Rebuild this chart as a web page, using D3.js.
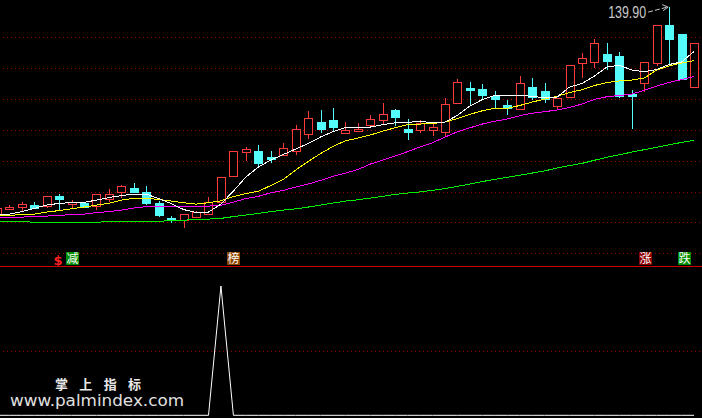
<!DOCTYPE html>
<html><head><meta charset="utf-8">
<script src="https://cdn.jsdelivr.net/npm/d3@7"></script>
<style>html,body{margin:0;padding:0;background:#000;overflow:hidden}svg{display:block}</style>
</head><body>
<svg id="c" width="702" height="418"></svg>
<script>
// ---- data (candle index -1 is the partially visible bar at the left edge) ----
const bars = d3.range(-1, 56);
const open  = [72.38,74.49,74.97,75.72,75.30,78.54,76.11,76.43,75.30,77.56,79.93,81.23,79.83,76.27,71.41,70.76,71.83,72.80,76.59,85.18,92.89,93.12,91.18,91.82,93.28,98.79,102.52,103.17,98.86,99.70,101.71,103.27,106.41,100.15,99.93,100.09,99.28,108.58,113.54,113.22,110.95,108.03,106.83,113.77,112.47,107.87,110.72,121.54,121.87,124.56,123.91,111.59,115.06,121.74,133.96,131.04,114.03];
const high  = [74.74,75.72,76.59,76.49,78.54,79.18,77.24,76.59,79.18,80.81,82.26,82.75,81.78,76.92,72.05,72.70,73.77,78.21,84.60,93.12,94.42,95.07,93.12,95.71,101.55,106.08,106.41,107.06,102.52,102.20,104.79,108.68,106.83,103.49,103.27,101.87,110.20,116.46,115.48,115.00,112.47,109.81,117.43,116.78,115.16,110.20,120.90,124.98,129.42,128.22,125.30,112.89,121.87,133.86,139.90,131.04,128.03];
const low   = [72.38,74.49,73.84,74.65,74.97,74.00,74.97,74.97,74.32,76.92,78.21,79.83,75.94,72.05,70.11,68.49,71.83,72.70,76.59,85.18,90.20,88.68,89.72,91.82,92.15,97.43,99.28,99.93,98.86,99.70,101.06,101.87,101.55,97.17,99.44,98.31,98.47,108.58,108.03,110.14,106.96,105.21,106.83,109.97,109.16,107.06,110.72,117.20,120.44,119.70,110.72,100.67,112.66,120.99,121.54,116.46,114.03];
const close = [74.65,75.13,75.94,74.74,78.54,77.56,76.75,75.07,79.18,79.18,81.78,79.90,76.27,72.38,70.66,72.70,73.35,76.69,84.60,93.06,93.77,89.23,90.53,94.09,100.25,103.72,100.25,100.90,99.93,100.25,103.39,105.05,104.24,99.44,102.10,100.80,108.26,115.39,112.89,111.27,109.97,107.06,115.06,110.52,109.97,110.20,120.90,123.16,128.03,122.29,111.11,110.95,121.87,133.86,129.42,116.46,128.03];
const ma5   = [72.38,72.70,73.51,74.55,75.62,76.17,76.43,76.49,77.24,78.05,78.70,79.18,79.18,77.73,76.11,74.16,73.25,73.35,75.94,80.16,84.69,87.94,90.20,91.99,93.77,95.55,97.66,99.44,100.74,100.80,100.90,101.65,102.29,102.42,102.75,102.29,102.52,104.69,107.71,109.81,111.11,111.27,111.27,110.78,110.46,110.62,113.86,115.00,117.43,120.35,120.90,119.37,118.82,119.54,121.16,121.97,125.37];
const ma10  = [72.28,72.28,72.54,72.70,73.35,73.84,74.42,74.97,75.62,76.17,77.24,77.79,77.79,77.47,76.92,76.36,75.94,76.36,77.01,78.37,79.35,80.09,81.94,83.88,86.96,89.72,92.31,94.64,96.43,97.33,98.31,99.60,100.67,101.68,101.87,102.03,102.52,103.65,105.02,106.18,106.96,106.96,107.87,109.00,109.97,110.85,112.08,112.99,114.35,115.32,115.81,116.13,116.78,119.37,120.67,121.64,122.45];
const ma20  = [71.41,71.50,71.73,71.89,72.05,72.28,72.54,72.70,73.19,73.51,74.00,74.65,75.13,75.20,75.20,75.20,75.20,75.30,75.52,76.59,77.73,78.44,79.61,80.38,81.45,82.43,83.63,84.92,85.99,87.13,88.91,90.20,91.50,92.96,94.48,95.81,97.66,99.38,100.67,101.87,102.78,103.49,104.56,105.37,105.89,106.41,107.22,108.35,109.88,110.72,111.11,111.59,112.79,114.19,115.32,116.29,117.27];
const ma60  = [70.43,70.43,70.43,70.01,70.01,70.01,70.01,70.01,70.01,70.34,70.34,70.34,70.34,70.34,70.60,70.76,70.85,71.08,71.31,71.89,72.38,72.93,73.51,74.00,74.39,74.97,75.62,76.27,76.92,77.34,77.89,78.44,79.09,79.51,79.90,80.38,80.97,81.68,82.43,83.24,83.95,84.60,85.28,85.99,86.70,87.61,88.42,89.13,90.14,91.11,91.95,92.77,93.57,94.35,95.16,95.91,96.62];
const signal = bars.map(i => i === 17 ? 1 : 0);
const gridPrices = [130, 120, 110, 100, 90, 80, 70, 60];
const signalGrid = [0.5];
const labelBars = [5, 18, 51, 54];
const labelTexts = ['减', '榜', '涨', '跌'];
const symbolBar = 4, symbolText = '$';
const watermark1 = '掌 上 指 标', watermark2 = 'www.palmindex.com';

// ---- drawing ----
const svg = d3.select('#c');
svg.append('rect').attr('width', 702).attr('height', 418).attr('fill', '#000');
const x = d3.scaleLinear().domain([-1, 55]).range([-3.15, 694.05]);
const y = d3.scaleLinear().domain([60, 130]).range([253.3, 37.2]);
const ys = d3.scaleLinear().domain([0, 1]).range([415.3, 286]);
const cx = i => Math.round(x(i));
const py = v => Math.round(y(v));

const RED = '#ff3c3c', CYAN = '#54fcfc', GRID = '#a00000';

// grid
svg.append('g').selectAll('line').data(gridPrices).join('line')
  .attr('x1', 3).attr('x2', 702)
  .attr('y1', d => py(d) + 0.5).attr('y2', d => py(d) + 0.5)
  .attr('stroke', GRID).attr('stroke-width', 1).attr('stroke-dasharray', '1,3')
  .attr('shape-rendering', 'crispEdges');
svg.append('g').selectAll('line').data(signalGrid).join('line')
  .attr('x1', 3).attr('x2', 702)
  .attr('y1', d => Math.round(ys(d)) + 0.5).attr('y2', d => Math.round(ys(d)) + 0.5)
  .attr('stroke', GRID).attr('stroke-width', 1).attr('stroke-dasharray', '1,3')
  .attr('shape-rendering', 'crispEdges');
// separator
svg.append('line').attr('x1', 0).attr('x2', 702).attr('y1', 266.5).attr('y2', 266.5)
  .attr('stroke', '#d00000').attr('stroke-width', 1).attr('shape-rendering', 'crispEdges');

// candles
const gC = svg.append('g').attr('shape-rendering', 'crispEdges');
bars.forEach((b, k) => {
  const o = open[k], h = high[k], l = low[k], c = close[k];
  const X = cx(b);
  const up = c >= o;
  const top = py(Math.max(o, c)), bot = py(Math.min(o, c));
  const col = up ? RED : CYAN;
  if (up) {
    gC.append('line').attr('x1', X + 0.5).attr('x2', X + 0.5).attr('y1', py(h)).attr('y2', top).attr('stroke', col);
    gC.append('line').attr('x1', X + 0.5).attr('x2', X + 0.5).attr('y1', bot).attr('y2', py(l) + 1).attr('stroke', col);
    if (bot - top < 1) {
      gC.append('line').attr('x1', X - 4).attr('x2', X + 5).attr('y1', top + 0.5).attr('y2', top + 0.5).attr('stroke', col);
    } else {
      gC.append('rect').attr('x', X - 3.5).attr('y', top + 0.5).attr('width', 8).attr('height', bot - top)
        .attr('fill', '#000').attr('stroke', col);
    }
  } else {
    gC.append('line').attr('x1', X + 0.5).attr('x2', X + 0.5).attr('y1', py(h)).attr('y2', py(l) + 1).attr('stroke', col);
    gC.append('rect').attr('x', X - 4).attr('y', top).attr('width', 9).attr('height', Math.max(1, bot - top + 1))
      .attr('fill', col);
  }
});

// moving averages
const mkLine = arr => d3.line().x((b, k) => x(b)).y((b, k) => y(arr[k]))(bars);
[[ma60, '#00ee00'], [ma20, '#ff00ff'], [ma10, '#ffff00'], [ma5, '#ffffff']].forEach(([arr, col]) => {
  svg.append('path').attr('d', mkLine(arr)).attr('fill', 'none').attr('stroke', col)
    .attr('stroke-width', 1).attr('shape-rendering', 'crispEdges');
});

// max label
const maxK = d3.maxIndex(high);
const mx = x(bars[maxK]), my = y(high[maxK]);
svg.append('text').attr('x', mx - 23).attr('y', my + 11.5).attr('text-anchor', 'end')
  .attr('font-family', 'Liberation Sans, Arial, sans-serif').attr('font-size', 16)
  .attr('textLength', 38).attr('lengthAdjust', 'spacingAndGlyphs')
  .attr('fill', '#c8c8c8').text(d3.format('.2f')(high[maxK]));
svg.append('line').attr('x1', mx - 21).attr('y1', my + 5.5).attr('x2', mx - 2).attr('y2', my + 0.5)
  .attr('stroke', '#c8c8c8').attr('stroke-width', 1).attr('stroke-dasharray', '5,2');
svg.append('path').attr('d', `M${mx - 7},${my - 2} L${mx - 1},${my + 0.5} L${mx - 6},${my + 4}`)
  .attr('fill', 'none').attr('stroke', '#c8c8c8').attr('stroke-width', 1);

// signal labels
const labelFill = ['#008c00', '#8c4600', '#8c0000', '#008c00'];
const labelShift = [0, 0, 1, 2];
labelBars.forEach((b, k) => {
  const X = cx(b) + labelShift[k];
  svg.append('rect').attr('x', X - 6).attr('y', 252).attr('width', 13).attr('height', 13).attr('fill', labelFill[k]);
  svg.append('text').attr('x', X + 0.5).attr('y', 263).attr('text-anchor', 'middle')
    .attr('font-family', 'Noto Sans CJK SC, sans-serif').attr('font-size', 12).attr('fill', '#ffffff')
    .text(labelTexts[k]);
});
svg.append('text').attr('x', cx(symbolBar) - 1).attr('y', 264.5).attr('text-anchor', 'middle')
  .attr('font-family', 'DejaVu Sans, sans-serif').attr('font-weight', 'bold').attr('font-size', 13)
  .attr('fill', '#ff2020').text(symbolText);

// lower panel signal line
svg.append('path').attr('d', d3.line().x(b => x(b)).y((b, k) => ys(signal[k]))(bars))
  .attr('fill', 'none').attr('stroke', '#ffffff').attr('stroke-width', 1);

// watermark
svg.append('text').attr('x', 55).attr('y', 388.5).attr('font-family', 'Noto Sans CJK SC, sans-serif')
  .attr('font-weight', 'bold').attr('font-size', 13).attr('letter-spacing', 4.2).attr('fill', '#e8e8e8').text(watermark1);
svg.append('text').attr('x', 10).attr('y', 405.5).attr('font-family', 'DejaVu Sans, Verdana, sans-serif')
  .attr('font-size', 15).attr('textLength', 174).attr('lengthAdjust', 'spacingAndGlyphs')
  .attr('fill', '#e0e0e0').text(watermark2);
</script>
</body></html>
